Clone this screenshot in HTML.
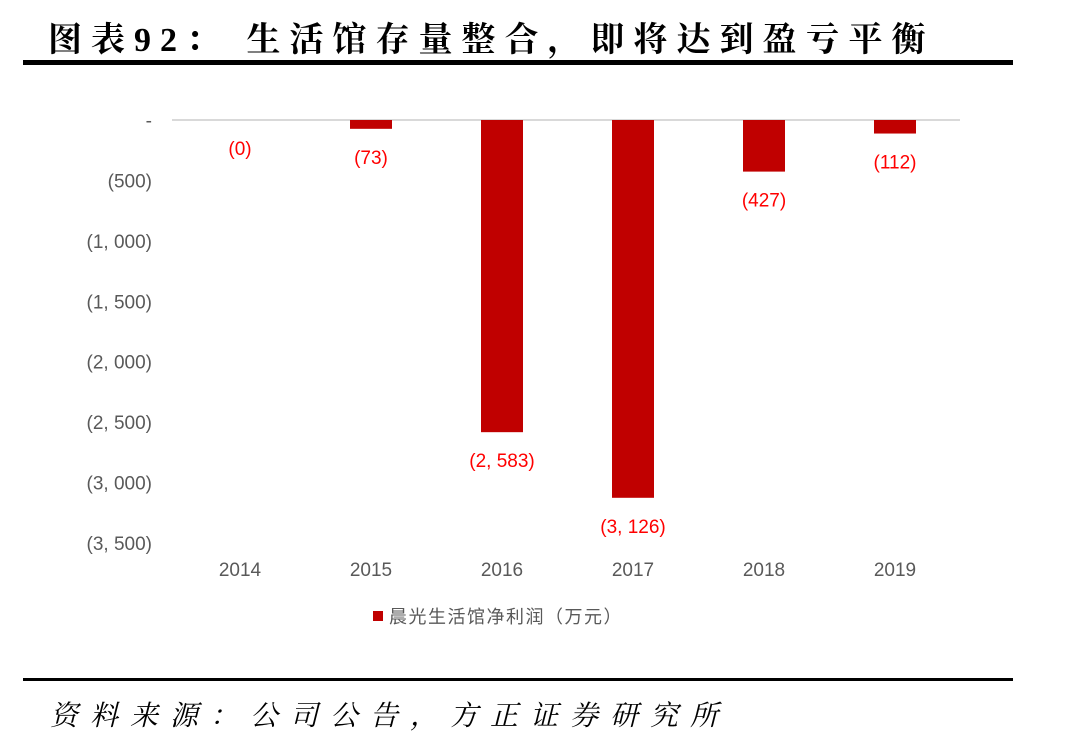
<!DOCTYPE html>
<html><head><meta charset="utf-8"><style>
body{margin:0;width:1078px;height:736px;background:#fff;overflow:hidden;position:relative}
.t{position:absolute;font-family:"Liberation Serif","Noto Serif CJK SC",serif;white-space:nowrap}
</style></head><body>
<div class="t" style="left:48px;top:12px;font-size:34px;color:#000;letter-spacing:9px;font-weight:bold">图表92：&nbsp;生活馆存量整合，即将达到盈亏平衡</div>
<div style="position:absolute;left:23px;top:60px;width:990px;height:5px;background:#000"></div>
<svg id="chart" width="1078" height="736" style="position:absolute;left:0;top:0;font-family:'Liberation Sans','Noto Sans CJK SC',sans-serif"></svg>
<div style="position:absolute;left:23px;top:678px;width:990px;height:3px;background:#000"></div>
<div class="t" style="left:50px;top:694px;font-size:28px;font-style:italic;color:#000;letter-spacing:12px">资料来源：公司公告，方正证券研究所</div>
<script>
const categories=["2014","2015","2016","2017","2018","2019"];
const values=[0,-73,-2583,-3126,-427,-112];
const valueLabels=["(0)","(73)","(2, 583)","(3, 126)","(427)","(112)"];
const yTicks=[0,-500,-1000,-1500,-2000,-2500,-3000,-3500];
const yTickLabels=["-","(500)","(1, 000)","(1, 500)","(2, 000)","(2, 500)","(3, 000)","(3, 500)"];
const svg=document.getElementById('chart');
const NS='http://www.w3.org/2000/svg';
const y=v=>120+(-v)*(423/3500);
const x=i=>240+i*131;
function mk(t,a){const e=document.createElementNS(NS,t);for(const k in a)e.setAttribute(k,a[k]);svg.appendChild(e);return e;}
yTicks.forEach((v,i)=>{
  const t=mk('text',{x:152,y:y(v)+7,'text-anchor':'end','font-size':19,fill:'#595959','xml:space':'preserve'});
  t.textContent=yTickLabels[i];
  
  
});
const ax=mk('line',{x1:172,x2:960,y1:120,y2:120,stroke:'#d9d9d9','stroke-width':2});


categories.forEach((c,i)=>{
  const v=values[i];
  const r=mk('rect',{x:x(i)-21,y:120,width:42,height:Math.max(0,y(v)-120),fill:'#c00000'});
  
  
  const l=mk('text',{x:x(i),y:Math.max(y(v),120)+35,'text-anchor':'middle','font-size':19,fill:'#ff0000'});
  l.textContent=valueLabels[i];
  
  
  const cl=mk('text',{x:x(i),y:576,'text-anchor':'middle','font-size':19,fill:'#595959'});
  cl.textContent=c;
  
  
});
const ls=mk('rect',{x:373,y:611,width:10,height:10,fill:'#c00000'});


const lt=mk('text',{x:389,y:623,'font-size':18,fill:'#595959','letter-spacing':'1.5'});
lt.textContent='晨光生活馆净利润（万元）';


</script>
</body></html>
